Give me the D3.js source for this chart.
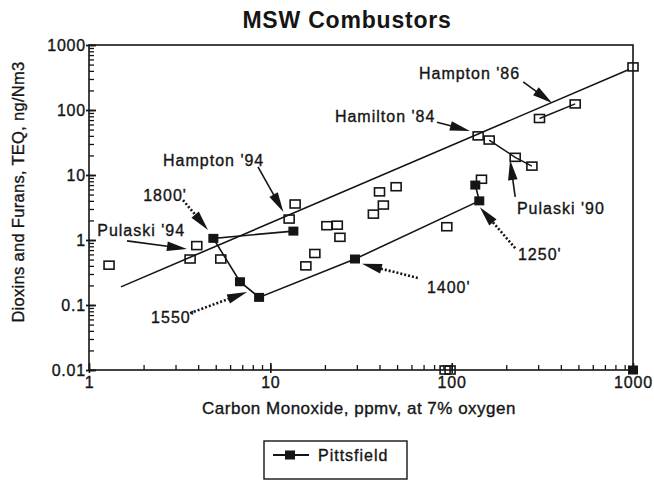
<!DOCTYPE html>
<html><head><meta charset="utf-8">
<script src="https://cdn.jsdelivr.net/npm/d3@7"></script>
<style>
body{margin:0;background:#fff;}
svg{display:block;font-family:"Liberation Sans",Arial,Helvetica,sans-serif;}
svg text{stroke:#151515;stroke-width:0.35px;}
</style></head><body>
<svg id="chart" width="654" height="481"></svg>
<script>
// ---- data ----
const titleText = "MSW Combustors";
const xAxisTitle = "Carbon Monoxide, ppmv, at 7% oxygen";
const yAxisTitle = "Dioxins and Furans, TEQ, ng/Nm3";
const xTickValues = [1, 10, 100, 1000];
const xTickLabels = ["1", "10", "100", "1000"];
const yTickValues = [0.01, 0.1, 1, 10, 100, 1000];
const yTickLabels = ["0.01", "0.1", "1", "10", "100", "1000"];

// MSW combustors (open squares)
const mswCO  = [1.29, 3.61, 3.93, 5.33, 12.7, 13.7, 15.7, 17.6, 20.5, 23.4, 24.2, 37, 40, 42, 49.4, 94, 92, 98, 140, 161, 224, 277, 305, 480, 146, 1000];
const mswTEQ = [0.41, 0.51, 0.82, 0.51, 2.1, 3.58, 0.40, 0.62, 1.66, 1.69, 1.1, 2.5, 5.5, 3.45, 6.6, 1.6, 0.01, 0.01, 40, 34.5, 18.7, 13.7, 74, 124, 8.6, 460];
// connected MSW runs
const pulaski90CO  = [161, 224, 277];
const pulaski90TEQ = [34.5, 18.7, 13.7];
const hampton86CO  = [305, 480];
const hampton86TEQ = [74, 124];
// regression line
const fitCO  = [1.5, 950];
const fitTEQ = [0.19, 420];
// Pittsfield (filled squares, connected)
const pittsfieldCO  = [13.4, 4.85, 6.8, 8.67, 29.3, 142, 135];
const pittsfieldTEQ = [1.37, 1.06, 0.228, 0.131, 0.51, 4.0, 7.0];
const pittsfieldExtraCO  = [1000];
const pittsfieldExtraTEQ = [0.01];
const legendLabel = "Pittsfield";

// annotations (positions in data units)
const noteLabels  = ["Hampton '86", "Hamilton '84", "Pulaski '90", "Hampton '94", "1800'", "Pulaski '94", "1550'", "1400'", "1250'"];
const noteSeries  = ["MSW", "MSW", "MSW", "MSW", "Pittsfield", "MSW", "Pittsfield", "Pittsfield", "Pittsfield"];
const noteTextCO  = [66, 22.7, 229, 2.56, 1.99, 1.11, 2.2, 73, 232];
const noteTextTEQ = [371, 81, 3.1, 17, 4.9, 1.43, 0.065, 0.19, 0.61];
const noteFromCO  = [248, 83, 224, 8.55, 3.3, 1.62, 3.61, 65, 224];
const noteFromTEQ = [270, 65, 4.6, 13.3, 4.1, 0.97, 0.075, 0.26, 0.75];
const noteToCO    = [358, 126, 210, 11.8, 4.53, 3.47, 7.44, 32, 143];
const noteToTEQ   = [128, 47.5, 17, 2.7, 1.43, 0.73, 0.158, 0.43, 3.2];

// ---- drawing ----
const ink = "#151515";
const svg = d3.select("#chart");
const x = d3.scaleLog().domain([1, 1000]).range([89, 633]);
const y = d3.scaleLog().domain([0.01, 1000]).range([370, 45]);

// title
svg.append("text").attr("x", 347).attr("y", 28).attr("text-anchor", "middle")
  .attr("font-size", 23).attr("font-weight", "bold").attr("letter-spacing", 0.8)
  .attr("fill", ink).style("stroke-width", "0px").text(titleText);

// plot frame
svg.append("rect").attr("x", x(1)).attr("y", y(1000))
  .attr("width", x(1000) - x(1)).attr("height", y(0.01) - y(1000))
  .attr("fill", "none").attr("stroke", ink).attr("stroke-width", 1.6);

// minor ticks
const gxMinor = svg.append("g").attr("transform", `translate(0,${y(0.01)})`)
  .call(d3.axisBottom(x).tickValues(x.ticks()).tickSize(-5).tickFormat(""));
const gyMinor = svg.append("g").attr("transform", `translate(${x(1)},0)`)
  .call(d3.axisLeft(y).tickValues(y.ticks()).tickSize(-5).tickFormat(""));
// major ticks + labels
const gx = svg.append("g").attr("transform", `translate(0,${y(0.01)})`)
  .call(d3.axisBottom(x).tickValues(xTickValues).tickSize(-7).tickFormat((d, i) => xTickLabels[i]));
const gy = svg.append("g").attr("transform", `translate(${x(1)},0)`)
  .call(d3.axisLeft(y).tickValues(yTickValues).tickSize(-7).tickFormat((d, i) => yTickLabels[i]));

[gxMinor, gyMinor, gx, gy].forEach(g => {
  g.select(".domain").remove();
  g.selectAll(".tick line").attr("stroke", ink).attr("stroke-width", 1.3);
});
gy.selectAll(".tick line").attr("x1", -3).attr("stroke-width", 1.8);
gx.selectAll(".tick line").attr("y1", 3).attr("stroke-width", 1.6);
gx.selectAll(".tick text").attr("y", 18).attr("dy", 0)
  .attr("font-size", 16).attr("letter-spacing", 0.8).attr("fill", ink)
  .attr("font-family", "'Liberation Sans', Arial, sans-serif");
gy.selectAll(".tick text").attr("x", -3).attr("dy", "0.35em")
  .attr("font-size", 16).attr("letter-spacing", 0.8).attr("fill", ink)
  .attr("font-family", "'Liberation Sans', Arial, sans-serif");

// axis titles
svg.append("text").attr("x", 359).attr("y", 414).attr("text-anchor", "middle")
  .attr("font-size", 17).attr("letter-spacing", 0.5).attr("fill", ink).text(xAxisTitle);
svg.append("text").attr("transform", "translate(24,192) rotate(-90)").attr("text-anchor", "middle")
  .attr("font-size", 16.5).attr("letter-spacing", 0.3).attr("fill", ink).text(yAxisTitle);

// lines
const line = d3.line().x(d => x(d[0])).y(d => y(d[1]));
const zip = (a, b) => a.map((v, i) => [v, b[i]]);
svg.append("path").attr("d", line(zip(fitCO, fitTEQ)))
  .attr("fill", "none").attr("stroke", ink).attr("stroke-width", 1.6);
[[pulaski90CO, pulaski90TEQ], [hampton86CO, hampton86TEQ]].forEach(([a, b]) => {
  svg.append("path").attr("d", line(zip(a, b)))
    .attr("fill", "none").attr("stroke", ink).attr("stroke-width", 1.5);
});
svg.append("path").attr("d", line(zip(pittsfieldCO, pittsfieldTEQ)))
  .attr("fill", "none").attr("stroke", ink).attr("stroke-width", 1.6);

// open squares
svg.append("g").selectAll("rect").data(zip(mswCO, mswTEQ)).join("rect")
  .attr("x", d => x(d[0]) - 5).attr("y", d => y(d[1]) - 4)
  .attr("width", 10).attr("height", 8)
  .attr("fill", "none").attr("stroke", ink).attr("stroke-width", 1.6);

// filled squares
svg.append("g").selectAll("rect")
  .data(zip(pittsfieldCO, pittsfieldTEQ).concat(zip(pittsfieldExtraCO, pittsfieldExtraTEQ))).join("rect")
  .attr("x", d => x(d[0]) - 5).attr("y", d => y(d[1]) - 4.5)
  .attr("width", 10).attr("height", 9).attr("fill", ink);

// annotations
const gNotes = svg.append("g");
noteLabels.forEach((lab, i) => {
  gNotes.append("text").attr("x", x(noteTextCO[i])).attr("y", y(noteTextTEQ[i]))
    .attr("dy", "0.36em").attr("font-size", 16).attr("letter-spacing", 1)
    .attr("fill", ink).text(lab);
  const x0 = x(noteFromCO[i]), y0 = y(noteFromTEQ[i]);
  const x1 = x(noteToCO[i]), y1 = y(noteToTEQ[i]);
  const dx = x1 - x0, dy = y1 - y0, len = Math.hypot(dx, dy);
  const ux = dx / len, uy = dy / len;
  const L = Math.min(20, len * 0.6), W = 4.8;
  const bx = x1 - ux * L, by = y1 - uy * L;
  const dotted = noteSeries[i] === "Pittsfield";
  gNotes.append("line").attr("x1", x0).attr("y1", y0).attr("x2", bx + ux * 2).attr("y2", by + uy * 2)
    .attr("stroke", ink).attr("stroke-width", dotted ? 2.6 : 1.6)
    .attr("stroke-dasharray", dotted ? "2,2" : null);
  gNotes.append("polygon")
    .attr("points", [[x1, y1], [bx - uy * W, by + ux * W], [bx + uy * W, by - ux * W]].map(p => p.join(",")).join(" "))
    .attr("fill", ink);
});

// legend
const lg = svg.append("g");
lg.append("rect").attr("x", 264).attr("y", 441).attr("width", 143).attr("height", 38)
  .attr("fill", "none").attr("stroke", ink).attr("stroke-width", 1.4);
lg.append("line").attr("x1", 273).attr("x2", 309).attr("y1", 455).attr("y2", 455)
  .attr("stroke", ink).attr("stroke-width", 1.8);
lg.append("rect").attr("x", 285).attr("y", 450.5).attr("width", 10).attr("height", 9).attr("fill", ink);
lg.append("text").attr("x", 318).attr("y", 455).attr("dy", "0.36em")
  .attr("font-size", 16).attr("letter-spacing", 1).attr("fill", ink).text(legendLabel);
</script>
</body></html>
